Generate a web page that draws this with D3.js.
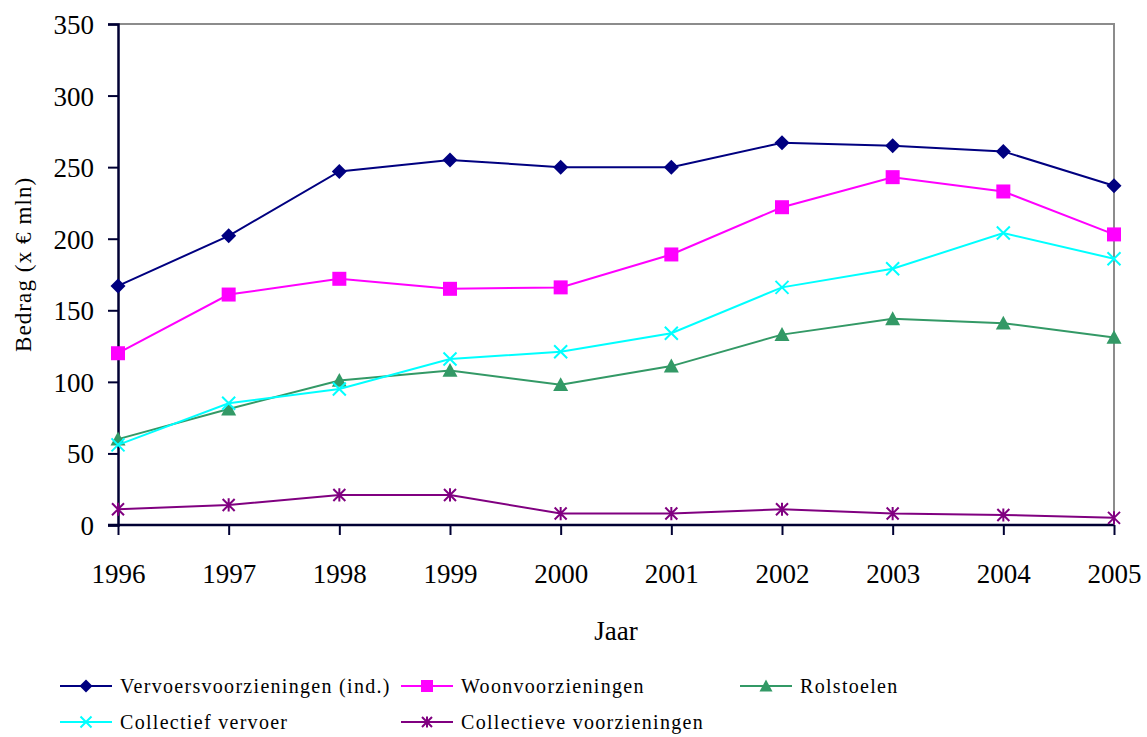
<!DOCTYPE html>
<html>
<head>
<meta charset="utf-8">
<script src="https://cdn.jsdelivr.net/npm/d3@7"></script>
<style>
  body { margin: 0; background: #fff; }
</style>
</head>
<body>
<div id="chart"></div>
<script>
const years = [1996, 1997, 1998, 1999, 2000, 2001, 2002, 2003, 2004, 2005];
const yTicks = [0, 50, 100, 150, 200, 250, 300, 350];

const vervoers = [167, 202, 247, 255, 250, 250, 267, 265, 261, 237];
const woon = [120, 161, 172, 165, 166, 189, 222, 243, 233, 203];
const rolstoelen = [60, 81, 101, 108, 98, 111, 133, 144, 141, 131];
const collVervoer = [56, 85, 95, 116, 121, 134, 166, 179, 204, 186];
const collVoorz = [11, 14, 21, 21, 8, 8, 11, 8, 7, 5];

const series = [
  { name: 'Vervoersvoorzieningen (ind.)', values: vervoers, color: '#000080', marker: 'diamond' },
  { name: 'Woonvoorzieningen', values: woon, color: '#ff00ff', marker: 'square' },
  { name: 'Rolstoelen', values: rolstoelen, color: '#339966', marker: 'triangle' },
  { name: 'Collectief vervoer', values: collVervoer, color: '#00ffff', marker: 'x' },
  { name: 'Collectieve voorzieningen', values: collVoorz, color: '#800080', marker: 'star' }
];

const FONT = '"Liberation Serif"';
const width = 1147, height = 737;
const plotLeft = 118, plotRight = 1114, plotTop = 24, plotBottom = 525;

const svg = d3.select('#chart').append('svg')
  .attr('width', width)
  .attr('height', height);

const xScale = d3.scalePoint().domain(years).range([plotLeft, plotRight]);
const yScale = d3.scaleLinear().domain([0, 350]).range([plotBottom, plotTop]);

/* plot border (top + right) */
svg.append('path')
  .attr('d', `M${plotLeft},${plotTop}H${plotRight}V${plotBottom}`)
  .attr('fill', 'none')
  .attr('stroke', '#8c8c8c')
  .attr('stroke-width', 2);

/* y axis */
const yAxis = svg.append('g')
  .attr('transform', `translate(${plotLeft},0)`)
  .call(d3.axisLeft(yScale).tickValues(yTicks).tickSize(10).tickPadding(14));
yAxis.select('.domain').attr('stroke', '#000033').attr('stroke-width', 2.5);
yAxis.selectAll('.tick line').attr('stroke', '#000033').attr('stroke-width', 2);
yAxis.selectAll('text')
  .attr('fill', '#000')
  .style('font-family', FONT)
  .style('font-size', '27px')
  .attr('dy', '0.35em');

/* x axis */
const xAxis = svg.append('g')
  .attr('transform', `translate(0,${plotBottom})`)
  .call(d3.axisBottom(xScale).tickSize(10).tickPadding(29).tickSizeOuter(0));
xAxis.select('.domain').attr('stroke', '#000033').attr('stroke-width', 2.5)
  .attr('d', `M${plotLeft - 10},0H${plotRight}`);
xAxis.selectAll('.tick line').attr('stroke', '#000033').attr('stroke-width', 2);
xAxis.selectAll('text')
  .attr('fill', '#000')
  .style('font-family', FONT)
  .style('font-size', '27px');

/* axis titles */
svg.append('text')
  .text('Jaar')
  .attr('x', (plotLeft + plotRight) / 2)
  .attr('y', 640)
  .attr('text-anchor', 'middle')
  .style('font-family', FONT)
  .style('font-size', '27px');

svg.append('text')
  .text('Bedrag (x € mln)')
  .attr('transform', 'translate(31,352) rotate(-90)')
  .attr('text-anchor', 'start')
  .style('font-family', FONT)
  .style('font-size', '23px')
  .style('letter-spacing', '1.1px');

/* markers */
function drawMarker(g, type, color, size) {
  const s = size / 2;
  if (type === 'diamond') {
    g.append('path').attr('d', `M0,${-s}L${s},0L0,${s}L${-s},0Z`).attr('fill', color);
  } else if (type === 'square') {
    g.append('rect').attr('x', -s).attr('y', -s).attr('width', size).attr('height', size).attr('fill', color);
  } else if (type === 'triangle') {
    g.append('path').attr('d', `M0,${-s}L${s},${s * 0.85}L${-s},${s * 0.85}Z`).attr('fill', color);
  } else if (type === 'x') {
    g.append('path').attr('d', `M${-s},${-s}L${s},${s}M${-s},${s}L${s},${-s}`)
      .attr('stroke', color).attr('stroke-width', 2);
  } else if (type === 'star') {
    g.append('path').attr('d', `M${-s},${-s}L${s},${s}M${-s},${s}L${s},${-s}M0,${-s * 1.1}V${s * 1.1}`)
      .attr('stroke', color).attr('stroke-width', 2);
  }
}

const markerSize = { diamond: 15, square: 14, triangle: 15, x: 13, star: 12 };

const line = d3.line()
  .x((d, i) => xScale(years[i]))
  .y(d => yScale(d));

series.forEach(s => {
  svg.append('path')
    .datum(s.values)
    .attr('fill', 'none')
    .attr('stroke', s.color)
    .attr('stroke-width', 2)
    .attr('d', line);

  s.values.forEach((v, i) => {
    const g = svg.append('g')
      .attr('transform', `translate(${xScale(years[i])},${yScale(v)})`);
    drawMarker(g, s.marker, s.color, markerSize[s.marker]);
  });
});

/* legend */
const legendPos = [
  { x: 60, y: 686 },
  { x: 401, y: 686 },
  { x: 740, y: 686 },
  { x: 60, y: 722 },
  { x: 401, y: 722 }
];

series.forEach((s, i) => {
  const p = legendPos[i];
  const g = svg.append('g').attr('transform', `translate(${p.x},${p.y})`);
  g.append('line')
    .attr('x1', 0).attr('x2', 52)
    .attr('y1', 0).attr('y2', 0)
    .attr('stroke', s.color)
    .attr('stroke-width', 2);
  const m = g.append('g').attr('transform', 'translate(26,0)');
  drawMarker(m, s.marker, s.color, markerSize[s.marker] - 2);
  g.append('text')
    .text(s.name)
    .attr('x', 60)
    .attr('y', 7)
    .style('font-family', FONT)
    .style('font-size', '20px')
    .style('letter-spacing', '1.3px')
    .attr('fill', '#000');
});
</script>
</body>
</html>
